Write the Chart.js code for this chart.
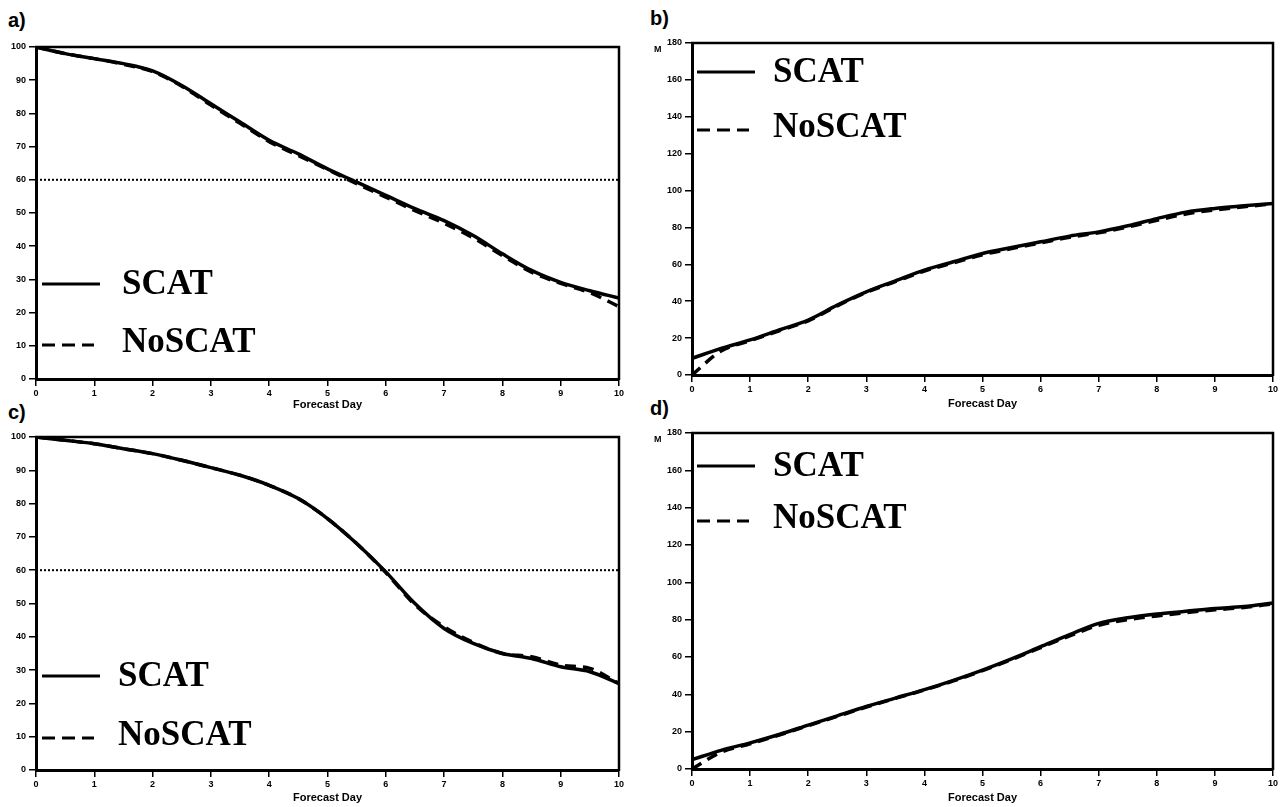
<!DOCTYPE html>
<html>
<head>
<meta charset="utf-8">
<script src="https://cdn.jsdelivr.net/npm/chart.js@4/dist/chart.umd.min.js"></script>
<style>
  html, body { margin: 0; padding: 0; background: #fff; }
  body { width: 1283px; height: 807px; position: relative; overflow: hidden; }
  .panel { position: absolute; }
  .tag { position: absolute; font: bold 20px "Liberation Sans", Arial, sans-serif; color: #000; line-height: 1; }
</style>
</head>
<body>
<div class="tag" style="left:8px;top:10px;">a)</div>
<div class="tag" style="left:650px;top:8px;">b)</div>
<div class="tag" style="left:8px;top:402px;">c)</div>
<div class="tag" style="left:650px;top:398px;">d)</div>

<div class="panel" style="left:0;top:0;width:640px;height:415px;"><canvas id="pa"></canvas></div>
<div class="panel" style="left:640px;top:0;width:643px;height:415px;"><canvas id="pb"></canvas></div>
<div class="panel" style="left:0;top:415px;width:640px;height:392px;"><canvas id="pc"></canvas></div>
<div class="panel" style="left:640px;top:415px;width:643px;height:392px;"><canvas id="pd"></canvas></div>

<script>
// Forecast days sampled every half day
const days = [0, 0.5, 1, 1.5, 2, 2.5, 3, 3.5, 4, 4.5, 5, 5.5, 6, 6.5, 7, 7.5, 8, 8.5, 9, 9.5, 10];

// a) anomaly correlation, first period
const aScat   = [100, 98, 96.5, 95, 92.8, 88.4, 82.9, 77.4, 71.9, 67.8, 63.3, 59.3, 55.3, 51.3, 47.7, 43.2, 37.7, 32.7, 29.1, 26.6, 24.4];
const aNoScat = [100, 98, 96.5, 94.8, 92.6, 88.2, 82.5, 77.0, 71.5, 67.3, 63.1, 58.8, 54.8, 50.7, 46.9, 42.5, 37.2, 32.2, 28.8, 26.0, 21.8];

// b) RMS error (M), first period
const bScat   = [9, 14.4, 19, 24.4, 29.8, 37.9, 45.1, 51, 56.9, 61.4, 65.9, 69.1, 72.2, 75.3, 77.6, 80.9, 84.8, 88.3, 90.3, 91.7, 93];
const bNoScat = [0, 13, 18.6, 24, 29.4, 37.5, 44.8, 50.6, 56.4, 60.8, 65.2, 68.5, 71.6, 74.7, 77.1, 80.2, 83.9, 87.3, 89.5, 91.2, 92.8];

// c) anomaly correlation, second period
const cScat   = [100, 99, 98, 96.5, 95, 93, 90.8, 88.5, 85.5, 81.5, 75.5, 68, 59.5, 50, 42.5, 38, 35, 33.5, 31, 29.5, 26];
const cNoScat = [100, 99, 98, 96.5, 95, 93, 90.8, 88.5, 85.5, 81.5, 75.5, 68, 59.3, 49.6, 43, 38.3, 35, 34, 31.5, 30.5, 26];

// d) RMS error (M), second period
const dScat   = [5, 10, 14, 18.5, 23.5, 28.5, 33.5, 38, 42.5, 47.5, 53, 59, 65.5, 72, 78, 81, 83, 84.5, 86, 87, 89];
const dNoScat = [0, 9, 13.5, 18.2, 23.2, 28.2, 33.2, 37.8, 42.3, 47.2, 52.7, 58.6, 65, 71.3, 77, 80, 82, 83.8, 85.3, 86.5, 88.5];

// 60% reference level in the correlation panels
const refDays = [0, 10];
const refLevel = [60, 60];

const pts = (xs, ys) => xs.map((x, i) => ({ x: x, y: ys[i] }));

// Frame on top/right, legend drawn inside the plot, optional unit label
const framePlugin = {
  id: 'frame',
  afterDraw(chart, args, opts) {
    const ctx = chart.ctx, a = chart.chartArea;
    ctx.save();
    ctx.strokeStyle = '#000';
    ctx.lineWidth = 2.5;
    ctx.beginPath();
    ctx.moveTo(a.left - 1, a.top);
    ctx.lineTo(a.right, a.top);
    ctx.lineTo(a.right, a.bottom + 1);
    ctx.stroke();

    // legend
    const L = opts.legend;
    ctx.font = 'bold 35px "Liberation Serif", "Times New Roman", serif';
    ctx.fillStyle = '#000';
    ctx.textBaseline = 'middle';
    ctx.lineWidth = 3;
    ctx.beginPath();
    ctx.setLineDash([]);
    ctx.moveTo(a.left + L.x0, a.top + L.y1);
    ctx.lineTo(a.left + L.x1, a.top + L.y1);
    ctx.stroke();
    ctx.fillText('SCAT', a.left + L.tx, a.top + L.y1 + 1);
    ctx.beginPath();
    ctx.setLineDash([13, 7]);
    ctx.moveTo(a.left + L.x0, a.top + L.y2);
    ctx.lineTo(a.left + L.x1 - 6, a.top + L.y2);
    ctx.stroke();
    ctx.setLineDash([]);
    ctx.fillText('NoSCAT', a.left + L.tx, a.top + L.y2 - 2);

    if (opts.unit) {
      ctx.font = 'bold 9px "Liberation Sans", Arial, sans-serif';
      ctx.textBaseline = 'middle';
      ctx.textAlign = 'left';
      ctx.fillText(opts.unit, opts.unitX, a.top + 7);
    }
    ctx.restore();
  }
};

function makeChart(id, scat, noscat, yMax, yStep, withRef, layout, legend, unit) {
  const datasets = [
    { data: pts(days, scat), borderColor: '#000', borderWidth: 3.5, pointRadius: 0,
      cubicInterpolationMode: 'monotone', fill: false },
    { data: pts(days, noscat), borderColor: '#000', borderWidth: 3.5, pointRadius: 0,
      borderDash: [11, 7], cubicInterpolationMode: 'monotone', fill: false }
  ];
  if (withRef) {
    datasets.push({ data: pts(refDays, refLevel), borderColor: '#000', borderWidth: 2,
      borderDash: [2, 2], pointRadius: 0, fill: false });
  }
  const tickFont = { family: '"Liberation Sans", Arial, sans-serif', size: 9, weight: 'bold' };
  return new Chart(document.getElementById(id), {
    type: 'line',
    data: { datasets: datasets },
    plugins: [framePlugin],
    options: {
      responsive: true,
      maintainAspectRatio: false,
      animation: false,
      layout: { padding: layout.padding },
      plugins: {
        legend: { display: false },
        tooltip: { enabled: false },
        frame: { legend: legend, unit: unit, unitX: 14 }
      },
      scales: {
        x: {
          type: 'linear', min: 0, max: 10,
          ticks: { stepSize: 1, color: '#000', font: tickFont, padding: 2, maxRotation: 0 },
          grid: { drawOnChartArea: false, drawTicks: true, tickLength: 7, color: '#000', lineWidth: 1.5 },
          border: { display: true, color: '#000', width: 3 },
          title: { display: true, text: 'Forecast Day', color: '#000',
                   font: { family: '"Liberation Sans", Arial, sans-serif', size: 11, weight: 'bold' },
                   padding: { top: 0, bottom: layout.titleLift } },
          afterFit(s) { s.height = layout.xh; }
        },
        y: {
          min: 0, max: yMax,
          ticks: { stepSize: yStep, color: '#000', font: tickFont, padding: 3 },
          grid: { drawOnChartArea: false, drawTicks: true, tickLength: 7, color: '#000', lineWidth: 1.5 },
          border: { display: true, color: '#000', width: 3 },
          afterFit(s) { s.width = layout.yw; }
        }
      }
    }
  });
}

makeChart('pa', aScat, aNoScat, 100, 10, true,
  { padding: { top: 47, right: 21, left: 0, bottom: 0 }, xh: 36, yw: 36, titleLift: 3 },
  { x0: 6, x1: 64, y1: 237, y2: 298, tx: 86 }, null);

makeChart('pb', bScat, bNoScat, 180, 20, false,
  { padding: { top: 43, right: 10, left: 0, bottom: 0 }, xh: 40, yw: 52, titleLift: 4 },
  { x0: 5, x1: 63, y1: 29, y2: 87, tx: 81 }, 'M');

makeChart('pc', cScat, cNoScat, 100, 10, true,
  { padding: { top: 22, right: 21, left: 0, bottom: 0 }, xh: 37, yw: 36, titleLift: 2 },
  { x0: 6, x1: 64, y1: 239, y2: 301, tx: 82 }, null);

makeChart('pd', dScat, dNoScat, 180, 20, false,
  { padding: { top: 18, right: 10, left: 0, bottom: 0 }, xh: 38, yw: 52, titleLift: 2 },
  { x0: 5, x1: 63, y1: 33, y2: 88, tx: 81 }, 'M');
</script>
</body>
</html>
